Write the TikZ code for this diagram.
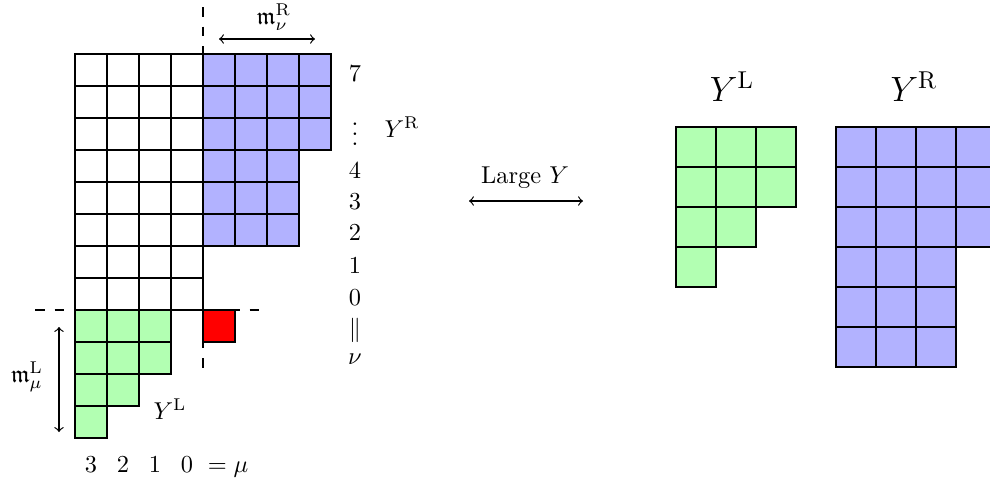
\documentclass[tikz,border=0pt]{standalone}
\usepackage{amssymb}
\begin{document}
\begin{tikzpicture}[x=0.41pt,y=-0.41pt,
  box/.style={draw,line width=0.5pt},
  whitecell/.style={box,fill=white},
  bluecell/.style={box,fill=blue!30},
  greencell/.style={box,fill=green!30},
  redcell/.style={box,fill=red},
  guide/.style={line width=0.5pt,dash pattern=on 4pt off 4pt},
  span/.style={<->,line width=0.5pt},
  lbl/.style={inner sep=0pt}]
\useasboundingbox (0,0) rectangle (990,480);
\clip (0,0) rectangle (990,480);

% dashed guide lines through the corner of the big diagram
\draw[guide] (203,7) -- (203,376);
\draw[guide] (35,310) -- (265,310);

% big diagram: white block
\foreach \r in {0,...,7}
  \foreach \c in {0,...,3}
    \draw[whitecell] ({75+32*\c},{54+32*\r}) rectangle +(32,32);
% big diagram: right part (blue)
\foreach \r/\n in {0/4,1/4,2/4,3/3,4/3,5/3}
  \foreach \c in {1,...,\n}
    \draw[bluecell] ({203+32*(\c-1)},{54+32*\r}) rectangle +(32,32);
% big diagram: left part (green)
\foreach \r/\n in {0/3,1/3,2/2,3/1}
  \foreach \c in {1,...,\n}
    \draw[greencell] ({75+32*(\c-1)},{310+32*\r}) rectangle +(32,32);
% corner cell
\draw[redcell] (203,310) rectangle +(32,32);

% width of the right part
\node[lbl] (mR) at (274,17) {$\mathfrak{m}^{\mathrm{R}}_{\nu}$};
\coordinate (mRa) at (219,39);
\coordinate (mRb) at (315,39);
\draw[span] (mRa) -- (mRb);

% row labels
\node[lbl] (r7) at (355,73.5) {$7$};
\node[lbl] (rd) at (355,127) {$\vdots$};
\node[lbl] (r4) at (355,171) {$4$};
\node[lbl] (r3) at (355,202) {$3$};
\node[lbl] (r2) at (355,233) {$2$};
\node[lbl] (r1) at (355,266) {$1$};
\node[lbl] (r0) at (355,298) {$0$};
\node[lbl] (req) at (355,330) {$\|$};
\node[lbl] (rnu) at (355,359) {$\nu$};
\node[lbl] (YRa) at (402,127) {$Y^{\mathrm{R}}$};

% height of the left part
\node[lbl] (mL) at (27,377) {$\mathfrak{m}^{\mathrm{L}}_{\mu}$};
\coordinate (mLa) at (59,327);
\coordinate (mLb) at (59,432);
\draw[span] (mLa) -- (mLb);
\node[lbl] (YLa) at (170,409) {$Y^{\mathrm{L}}$};

% column labels
\node[lbl,anchor=base] (c3) at (91,472) {$3$};
\node[lbl,anchor=base] (c2) at (123,472) {$2$};
\node[lbl,anchor=base] (c1) at (155,472) {$1$};
\node[lbl,anchor=base] (c0) at (187,472) {$0$};
\node[lbl,anchor=base] (cmu) at (228,472) {$=\mu$};

% limit arrow
\node[lbl,anchor=base] (large) at (525,183) {Large $Y$};
\coordinate (la) at (469,201);
\coordinate (lb) at (583,201);
\draw[span] (la) -- (lb);

% separated diagrams
\node[lbl,anchor=base,font=\Large] (YLb) at (732,101) {$Y^{\mathrm{L}}$};
\node[lbl,anchor=base,font=\Large] (YRb) at (914,101) {$Y^{\mathrm{R}}$};
\foreach \r/\n in {0/3,1/3,2/2,3/1}
  \foreach \c in {1,...,\n}
    \draw[greencell] ({676+40*(\c-1)},{127+40*\r}) rectangle +(40,40);
\foreach \r/\n in {0/4,1/4,2/4,3/3,4/3,5/3}
  \foreach \c in {1,...,\n}
    \draw[bluecell] ({836+40*(\c-1)},{127+40*\r}) rectangle +(40,40);
\end{tikzpicture}
\end{document}
